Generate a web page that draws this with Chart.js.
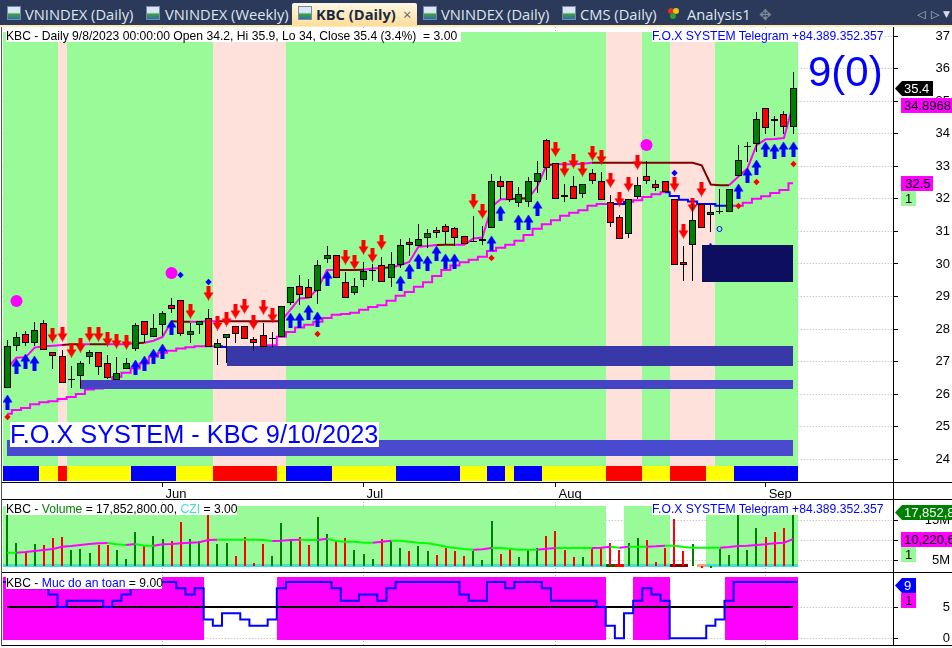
<!DOCTYPE html>
<html><head><meta charset="utf-8">
<script src="https://cdn.jsdelivr.net/npm/chart.js@4"></script>
<style>
html,body{margin:0;padding:0;background:#fff;width:952px;height:648px;overflow:hidden;font-family:"Liberation Sans",Arial,sans-serif}
canvas{position:absolute;left:0}
.a{position:absolute;white-space:pre;line-height:1}
.tabs{position:absolute;left:0;top:0;width:952px;height:25px;background:#2b3a5a}
.stripe{position:absolute;left:0;top:25px;width:952px;height:2px;background:#ffe9b4}
.t{position:absolute;top:5px;font:14.7px "Open Sans",sans-serif;color:#dfe5ef;white-space:pre;line-height:18px}
.ic{position:absolute;top:6px;width:14px;height:14px;background:linear-gradient(#d9e8f8 45%,#3fa03f 60%,#2a70b0);border:1px solid #7a8aa5;box-sizing:border-box}
.line{position:absolute;background:#000}
.box{position:absolute;background:#fff;white-space:pre;font-size:12.15px;line-height:12px;padding:0}
.tag{position:absolute;font-size:13px;line-height:15px;height:15px;white-space:pre;overflow:hidden;padding-left:4px;box-sizing:border-box}
</style></head><body>
<canvas id="main" width="952" height="472" style="top:27px"></canvas>
<canvas id="vol" width="952" height="73" style="top:499px"></canvas>
<canvas id="safe" width="952" height="73" style="top:572px"></canvas>

<div class="tabs"></div><div class="stripe"></div>
<div style="position:absolute;left:292px;top:3px;width:125px;height:23px;background:linear-gradient(#fdf8e6,#ffdc98);border-radius:2px 2px 0 0"></div>
<div class="ic" style="left:7px"></div><div class="t" style="left:25px">VNINDEX (Daily)</div>
<div class="ic" style="left:146px"></div><div class="t" style="left:165px">VNINDEX (Weekly)</div>
<div class="ic" style="left:298px"></div><div class="t" style="left:316px;font-weight:700;color:#1b2a44">KBC (Daily)</div>
<div class="t" style="left:403px;color:#666">×</div>
<div class="ic" style="left:423px"></div><div class="t" style="left:441px">VNINDEX (Daily)</div>
<div class="ic" style="left:562px"></div><div class="t" style="left:580px">CMS (Daily)</div>
<div style="position:absolute;left:668px;top:8px;width:6px;height:6px;border-radius:3px;background:#e03020"></div>
<div style="position:absolute;left:673px;top:8px;width:6px;height:6px;border-radius:3px;background:#f0c020"></div>
<div style="position:absolute;left:670px;top:13px;width:6px;height:6px;border-radius:3px;background:#30a030"></div>
<div class="t" style="left:687px">Analysis1</div>
<div class="t" style="left:759px;color:#7d8798">✥</div>
<div class="t" style="left:917px;color:#b8c0cc;font:11px 'DejaVu Sans';top:8px">◁</div>
<div class="t" style="left:931px;color:#b8c0cc;font:11px 'DejaVu Sans';top:8px">▷</div>
<div class="t" style="left:943px;color:#d8dde6;font:9px 'DejaVu Sans';top:9px">▼</div>

<div class="line" style="left:893px;top:27px;width:1px;height:618px"></div>
<div class="line" style="left:2px;top:482px;width:950px;height:1px"></div>
<div class="line" style="left:2px;top:499px;width:950px;height:1px"></div>
<div class="line" style="left:2px;top:572px;width:950px;height:1px"></div>
<div class="line" style="left:2px;top:645px;width:950px;height:1px"></div>
<div class="line" style="left:1px;top:27px;width:1px;height:619px;background:#555"></div>

<div class="box" style="left:6px;top:30px;width:455px;height:12px">KBC - Daily 9/8/2023 00:00:00 Open 34.2, Hi 35.9, Lo 34, Close 35.4 (3.4%)  = 3.00</div>
<div class="box" style="left:652px;top:30px;width:231px;height:12px;color:#0000ff;">F.O.X SYSTEM Telegram +84.389.352.357</div>
<div class="a" style="left:808px;top:51px;font-size:42px;color:#0000ff">9(0)</div>
<div class="a" style="left:10px;top:422px;width:369px;height:25px;background:#fff;color:#0000ff;font-size:25.3px">F.O.X SYSTEM - KBC 9/10/2023</div>

<div class="tag" style="left:895px;top:81px;width:38px;background:#000;color:#fff;clip-path:polygon(0 50%,7px 0,100% 0,100% 100%,7px 100%);padding-left:9px">35.4</div>
<div class="tag" style="left:901px;top:98px;width:51px;background:#ff00ff;color:#000;padding-left:3px">34.8968</div>
<div class="tag" style="left:901px;top:176px;width:32px;background:#ff00ff;color:#000">32.5</div>
<div class="tag" style="left:901px;top:191px;width:15px;background:#98fb98;color:#000">1</div>

<div class="box" style="left:6px;top:503px;width:231px;height:12px">KBC - <span style="color:#008000">Volume</span> = 17,852,800.00, <span style="color:#40e0d0">CZI</span> = 3.00</div>
<div class="box" style="left:652px;top:503px;width:231px;height:12px;color:#0000ff">F.O.X SYSTEM Telegram +84.389.352.357</div>
<div class="tag" style="left:895px;top:505px;width:57px;background:#008000;color:#fff;clip-path:polygon(0 50%,7px 0,100% 0,100% 100%,7px 100%);padding-left:9px">17,852,800</div>
<div class="tag" style="left:901px;top:532px;width:51px;background:#ff00ff;color:#000;padding-left:3px">10,220,600</div>
<div class="tag" style="left:901px;top:547px;width:15px;background:#98fb98;color:#000">1</div>

<div class="box" style="left:6px;top:577px;width:156px;height:12px">KBC - <span style="color:#0000ff">Muc do an toan</span> = 9.00</div>
<div class="tag" style="left:895px;top:578px;width:21px;background:#0000ff;color:#fff;clip-path:polygon(0 50%,7px 0,100% 0,100% 100%,7px 100%);padding-left:9px">9</div>
<div class="tag" style="left:901px;top:593px;width:15px;background:#ff00ff;color:#000">1</div>

<script>
// ---------- price data (one entry per trading day) ----------
const opens=[26.2,27.47,27.85,27.56,28.17,27.28,27.16,26.43,26.56,27.13,27.28,26.97,26.42,26.76,27.4,28.26,27.77,28.11,28.75,28.88,27.83,28.11,28.35,27.43,27.71,28.08,28.08,27.68,27.83,27.7,27.77,28.8,29.31,29.28,29.17,30.16,30.26,29.46,29.11,29.51,29.77,29.98,29.58,29.98,30.66,30.56,30.8,31.03,31.18,31.09,30.87,30.66,30.71,31.11,32.56,32.56,31.88,31.91,32.52,33.8,33.1,32.13,32.38,32.16,32.78,32.56,31.89,31.43,30.92,32.06,32.69,32.47,32.56,31.98,30.07,30.57,31.83,31.49,31.59,31.61,32.69,33.58,33.67,34.78,34.46,34.62,34.2];
const highs=[27.66,27.9,27.95,28.23,28.29,27.28,27.37,26.86,27.03,27.37,27.28,27.19,27.13,27.1,28.17,28.26,28.46,28.55,28.94,28.88,28.2,28.26,28.63,27.68,27.86,28.08,28.08,27.74,28.2,27.92,28.72,29.28,29.66,29.55,30.12,30.55,30.26,29.76,29.58,30.05,30.01,30.22,30.38,30.76,30.8,31.24,31.06,31.14,31.24,31.15,30.87,31.47,31.16,32.75,32.7,32.56,32.36,32.67,33.16,33.85,33.1,32.45,32.7,32.47,32.93,32.81,32.11,31.5,31.98,32.67,33.16,32.59,32.56,31.98,30.55,31.85,31.83,31.82,32.3,32.29,33.65,33.76,34.66,34.78,34.56,34.71,35.9];
const lows=[26.2,27.33,27.47,27.47,27.37,26.78,26.33,26.2,26.2,26.94,26.59,26.48,26.42,26.76,27.34,27.56,27.74,27.79,28.48,27.79,27.56,27.86,27.46,26.89,26.97,27.56,27.68,27.34,27.46,27.46,27.77,28.74,28.73,28.96,28.76,30.03,29.57,28.96,29.05,29.3,29.48,29.45,29.3,29.89,30.24,30.56,30.5,30.8,30.58,30.56,30.62,30.66,30.59,31.11,32.01,31.91,31.75,31.75,32.18,32.57,32.0,31.91,32.0,32.03,32.47,31.97,31.14,30.78,30.8,32.01,32.47,32.25,32.2,29.98,29.48,29.48,31.09,30.99,31.53,31.61,32.69,33.13,33.44,34.0,33.93,33.99,34.0];
const closes=[27.47,27.76,27.56,27.96,27.37,27.16,26.33,26.46,26.97,27.28,26.82,26.51,26.65,26.97,28.11,27.83,28.02,28.48,28.63,27.86,27.95,28.26,27.46,27.56,27.86,27.86,27.68,27.56,27.46,27.73,28.72,29.28,29.05,28.96,29.98,30.26,29.57,28.96,29.31,29.77,29.8,29.45,30.01,30.57,30.57,30.78,30.94,30.96,30.97,30.8,30.62,30.69,30.78,32.54,32.37,31.97,32.16,32.54,32.78,32.95,32.0,32.06,32.0,32.47,32.55,31.97,31.27,30.78,31.98,32.44,32.56,32.32,32.2,29.98,29.98,31.36,31.09,31.61,31.62,32.29,33.18,33.61,34.44,34.19,34.38,34.22,35.4];
const lowerLine=[25.40,25.51,25.57,25.69,25.75,25.78,25.85,25.91,26.0,26.14,26.17,26.38,26.53,26.66,26.79,26.94,27.15,27.27,27.33,27.40,27.44,27.47,27.47,27.47,27.45,27.45,27.45,27.45,27.45,27.5,27.76,27.91,28.05,28.13,28.22,28.34,28.44,28.46,28.5,28.59,28.68,28.73,28.87,29.02,29.14,29.3,29.44,29.63,29.81,29.95,30.05,30.13,30.22,30.4,30.5,30.59,30.71,30.89,31.08,31.22,31.34,31.48,31.57,31.65,31.79,31.84,31.84,31.84,31.91,31.96,32.06,32.14,32.2,32.09,31.97,31.92,31.84,31.84,31.79,31.79,31.79,31.88,32.0,32.08,32.18,32.27,32.48];
const upperLine=[26.79,27.12,27.13,27.43,27.47,27.49,27.51,27.53,27.53,27.53,27.53,27.53,27.53,27.53,27.56,27.58,27.64,27.76,28.24,28.22,28.22,28.22,28.24,28.24,28.24,28.24,28.24,28.24,28.24,28.24,28.24,28.6,28.94,28.96,29.25,29.81,29.81,29.81,29.81,29.82,29.86,29.88,29.89,29.96,30.06,30.53,30.55,30.58,30.59,30.59,30.59,30.78,30.81,31.75,31.99,31.99,32.02,32.01,32.37,33.03,33.06,33.06,33.06,33.08,33.11,33.11,33.11,33.11,33.11,33.11,33.11,33.11,33.11,33.11,33.11,33.11,33.03,32.44,32.42,32.42,32.68,32.93,33.65,33.83,33.84,33.87,34.9];
const upperMaroonDays=[6,7,9,10,14,18,19,23,24,25,26,27,28,29,36,37,38,41,47,48,55,56,59,64,65,66,67,68,69,70,71,72,73,74,75,76,77,78];
const lowerBlueDays=[23,24,66,67,72,73,74,75,76,77,78];
const redArrowDays=[5,6,7,8,9,10,11,12,13,20,22,23,24,25,26,27,28,29,37,38,39,40,41,51,52,60,61,62,63,64,65,66,67,68,69,73,74,75,76];
const redArrowPrices=[27.83,27.86,27.35,27.52,27.86,27.86,27.69,27.62,27.59,28.54,29.12,28.17,28.32,28.54,28.72,28.23,28.69,28.42,30.22,30.07,30.53,30.28,30.68,31.94,31.63,33.54,32.92,33.17,32.92,33.41,33.29,32.59,31.98,32.46,33.14,32.47,31.02,31.82,32.29];
const blueArrowDays=[0,1,2,3,14,15,16,17,18,31,32,33,34,35,43,44,45,46,47,48,49,53,54,56,57,58,77,80,81,82,83,84,85,86];
const blueArrowPrices=[25.76,26.86,27.02,26.96,26.84,26.96,27.18,27.33,28.05,28.29,28.29,28.53,28.32,29.58,29.42,29.79,30.1,30.03,30.34,30.1,30.1,30.65,31.58,31.29,31.29,31.73,30.42,32.25,32.74,32.98,33.54,33.47,33.54,33.54];
const redDiamondDays=[0,34,53,80,82,86];
const redDiamondPrices=[25.29,27.84,30.18,31.79,32.51,33.07];
const blueDiamondDays=[19,22,73];
const blueDiamondPrices=[29.66,29.45,32.79];
const hollowDays=[78];
const hollowPrices=[31.07];
const bigDotDays=[1,18,70];
const bigDotPrices=[28.85,29.71,33.64];
// background phases: first day, last day
const greenRuns=[[0,5],[7,22],[31,65],[70,72],[78,86]];
const pinkRuns=[[6,6],[23,30],[66,69],[73,77]];
const bandLow=23.33, bandHigh=37.12;
const stripLow=23.33, stripHigh=23.79;
const stripBlueRuns=[[0,3],[14,18],[31,35],[43,49],[53,54],[56,58],[80,86]];
const stripYellowRuns=[[4,5],[7,13],[19,22],[30,30],[36,42],[50,52],[55,55],[59,65],[70,72],[77,79]];
const stripRedRuns=[[6,6],[23,29],[66,69],[73,76]];
// zones: start day, end day, low, high
const zoneStart=[0,8,24,76];
const zoneEnd=[86,86,86,86];
const zoneLow=[24.10,26.15,26.86,29.45];
const zoneHigh=[24.59,26.43,27.48,30.58];
const zoneColor=['#4a4ad0','#4444c4','#3838a8','#0e0e60'];
const monthDays=[17,39,60,83];
const monthNames=['Jun','Jul','Aug','Sep'];
// ---------- volume pane (millions) ----------
const volumes=[18,9.33,7.08,9,8.67,10.5,10.75,7.5,7.75,6.75,8.75,8.75,7.5,5.25,12,8.75,11,10.25,9.75,14.5,10.25,9.75,17,9,9.25,6,10.75,4.25,9,6,14.25,10.25,10.67,8.75,15.75,11.5,10,10.5,7.5,6.5,5.25,10.25,10,8,7.25,8.5,7.25,6.25,8,7.25,6,7.25,5,14.75,6.5,8,5.75,7.5,8,11,12.25,7.5,5.75,5.75,7.75,8,9.25,7.5,9.25,10.5,10,4.5,8,15.25,7.25,9,3,3,7.75,6.25,16.5,7.5,13,10.75,12,13,17.85];
const volumeAverage=[6.83,6.83,7,7.25,7.5,7.75,8.33,8.5,8.75,9,9.17,9.25,8.92,8.75,9,8.58,8.58,8.92,9,9.17,9.33,9.42,10,10.08,10.08,10.08,10.08,10.08,10,9.75,9.83,10,10.08,10,10,10.33,9.75,9.58,9.58,9.33,9.33,9.58,9.83,9.83,9.58,9.33,9.17,8.83,8.33,8,7.75,7.58,7.67,8,8,7.83,7.58,7.58,7.58,7.83,8,8,8,8,8,8.08,8.33,8.08,8.33,8.33,8.33,8.42,8.58,8.58,8.25,8.08,8.08,8.08,8.08,8.25,8.5,8.58,8.75,8.92,9.17,9.33,10.22];
const volTicks=[5,10,15];
const volGreenRuns=[[0,65],[68,72],[77,86]];
const volBandLow=3.25, volBandHigh=18.5, czLow=3.25, czHigh=4;
const czTurquoiseRuns=[[0,65],[68,72],[77,86]];
const czDarkGreenRuns=[[66,66]];
const czRedRuns=[[67,67]];
const czMaroonRuns=[[73,74]];
const czOrangeRuns=[[76,76]];
// ---------- safety pane ----------
const safety=[9,9,8,8,8,7,5,6,6,6,6,5,6,7,8,9,9,9,9,8,7,8,3,2,4,4,3,2,2,3,8,9,9,9,9,9,8,6,6,7,7,6,8,9,9,9,9,9,9,9,7,6,6,9,9,8,9,9,9,8,6,6,6,6,6,5,2,0,4,6,8,7,6,0,0,0,0,2,3,6,9,9,9,9,9,9,9];
const safetyMagentaRuns=[[0,21],[30,65],[69,72],[79,86]];
const safeBandLow=-0.27, safeBandHigh=9.85, safetyMid=5;
const safeTicks=[0,5];

const FONT={family:'"Liberation Sans",Arial,sans-serif',size:13};
const LEFT=2.7, XMIN=-0.5, XMAX=96.94;
const days=opens.map((_,i)=>i);

function arrow(color,up){
  const c=document.createElement('canvas');c.width=11;c.height=15;
  const g=c.getContext('2d');g.fillStyle=color;
  if(!up){g.translate(0,15);g.scale(1,-1);}
  g.beginPath();g.moveTo(5.5,0);g.lineTo(10.5,8);g.lineTo(7.5,8);g.lineTo(7.5,15);g.lineTo(3.5,15);g.lineTo(3.5,8);g.lineTo(.5,8);g.closePath();g.fill();
  return c;
}
const runBar=(runs,lo,hi,color,order)=>({type:'bar',order,data:runs.map(r=>({x:r[0],y:[lo,hi],x0:r[0]-.5,x1:r[1]+.5})),backgroundColor:color,barThickness:9,borderWidth:0,inflateAmount:0,grouped:false});
const pts=(xs,ys)=>xs.map((x,i)=>({x,y:ys[i]}));
const scatter=(xs,ys,style,radius,color,order,extra)=>Object.assign({type:'line',showLine:false,order,data:pts(xs,ys),pointStyle:style,pointRadius:radius,pointBackgroundColor:color,pointBorderColor:color,pointBorderWidth:0},extra||{});

const snap={id:'snap',afterDatasetsUpdate(chart){
  const xs=chart.scales.x;
  chart.data.datasets.forEach((ds,d)=>{
    const meta=chart.getDatasetMeta(d);
    if(meta.type==='line'&&ds.showLine!==false)return;
    meta.data.forEach((el,i)=>{
      const raw=ds.data[i];
      if(meta.type==='bar'){
        if(raw&&raw.x0!==undefined){
          const l=Math.round(xs.getPixelForValue(raw.x0)),r=Math.round(xs.getPixelForValue(raw.x1));
          el.x=(l+r)/2;el.width=r-l;
        }else{
          el.x=(el.width%2)?Math.floor(el.x)+.5:Math.round(el.x);
        }
        el.y=Math.round(el.y);el.base=Math.round(el.base);
        if(el.y===el.base)el.base=el.y+1;
      }else{
        el.x=Math.floor(el.x)+.5;el.y=Math.round(el.y);
      }
    });
  });
}};
function noPad(s){s.paddingTop=0;s.paddingBottom=0;s.paddingLeft=0;s.paddingRight=0;}

function xAxis(showLabels){
  return {type:'linear',min:XMIN,max:XMAX,offset:false,
    grid:{offset:false,color:'#b4b4b4',tickColor:'#000',tickLength:5,drawTicks:showLabels,tickBorderDash:[]},
    border:{display:false,dash:[1,2]},
    afterBuildTicks:s=>{s.ticks=monthDays.map(v=>({value:v}));},
    afterFit:s=>{s.height=showLabels?17:0;noPad(s);},
    ticks:{display:showLabels,autoSkip:false,maxRotation:0,align:'start',labelOffset:3,padding:0,color:'#000',font:FONT,
      callback:v=>monthNames[monthDays.indexOf(v)]}};
}
function yAxis(min,max,extra){
  return Object.assign({type:'linear',position:'right',min,max,
    grid:{color:'#b4b4b4',tickColor:'#000',tickLength:5,tickBorderDash:[]},
    border:{display:false,dash:[1,2]},
    afterFit:s=>{s.width=57;noPad(s);}},extra);
}
function make(id,datasets,y,showLabels){
  return new Chart(document.getElementById(id),{type:'bar',data:{datasets},plugins:[snap],options:{
    responsive:false,animation:false,events:[],devicePixelRatio:1,
    layout:{autoPadding:false,padding:{left:LEFT,right:2,top:0,bottom:0}},
    plugins:{legend:{display:false},tooltip:{enabled:false}},
    scales:{x:xAxis(showLabels),y}
  }});
}

// main pane
const upCandle=closes.map((c,i)=>c>=opens[i]);
make('main',[
  runBar(greenRuns,bandLow,bandHigh,'#98fb98',30),
  runBar(pinkRuns,bandLow,bandHigh,'#ffe1dc',29),
  runBar(stripBlueRuns,stripLow,stripHigh,'#0000ff',28),
  runBar(stripYellowRuns,stripLow,stripHigh,'#ffff00',27),
  runBar(stripRedRuns,stripLow,stripHigh,'#ff0000',26),
  {type:'line',order:25,data:pts(days,lowerLine),stepped:'middle',borderColor:'#ff00ff',borderWidth:2,pointRadius:0,
    segment:{borderColor:c=>lowerBlueDays.includes(c.p0DataIndex)?'#0000ff':'#ff00ff'}},
  {type:'line',order:24,data:pts(days,upperLine),borderColor:'#ff00ff',borderWidth:2,pointRadius:0,
    segment:{borderColor:c=>upperMaroonDays.includes(c.p0DataIndex)?'#800000':'#ff00ff'}},
  scatter(bigDotDays,bigDotPrices,'circle',6,'#ff00ff',23),
  scatter(blueArrowDays,blueArrowPrices,arrow('#0000ff',true),7,'#0000ff',22),
  scatter(redArrowDays,redArrowPrices,arrow('#ff0000',false),7,'#ff0000',21),
  scatter(redDiamondDays,redDiamondPrices,'rectRot',3.2,'#ff0000',20),
  scatter(blueDiamondDays,blueDiamondPrices,'rectRot',3.2,'#0000ff',19),
  scatter(hollowDays,hollowPrices,'circle',2.5,'rgba(0,0,0,0)',18,{pointBorderColor:'#0000ff',pointBorderWidth:1}),
  {type:'bar',order:17,data:zoneStart.map((s,i)=>({x:s,y:[zoneLow[i],zoneHigh[i]],x0:s,x1:zoneEnd[i]})),backgroundColor:zoneColor,barThickness:9,borderWidth:0,inflateAmount:0,grouped:false},
  {type:'bar',order:16,data:days.map(i=>({x:i,y:[lows[i],highs[i]]})),backgroundColor:'#000',barThickness:1,borderWidth:0,inflateAmount:0,grouped:false},
  {type:'bar',order:15,data:days.map(i=>({x:i,y:[opens[i],closes[i]]})),backgroundColor:upCandle.map(u=>u?'#008000':'#ff0000'),borderColor:'#000',borderWidth:1,borderSkipped:false,barThickness:7,inflateAmount:0,grouped:false}
],yAxis(23.3,37.28,{ticks:{stepSize:1,includeBounds:false,padding:2,crossAlign:'far',color:'#000',font:FONT}}),true);

// volume pane
make('vol',[
  runBar(volGreenRuns,volBandLow,volBandHigh,'#98fb98',10),
  runBar(czTurquoiseRuns,czLow,czHigh,'#40e0d0',9),
  runBar(czDarkGreenRuns,czLow,czHigh,'#006400',8),
  runBar(czRedRuns,czLow,czHigh,'#ff0000',8),
  runBar(czMaroonRuns,czLow,czHigh,'#800000',8),
  runBar(czOrangeRuns,czLow,czHigh,'#ffa07a',8),
  {type:'bar',order:5,data:days.map(i=>({x:i,y:[volBandLow+.25,volumes[i]]})),backgroundColor:upCandle.map(u=>u?'#008000':'#ff0000'),barThickness:2,borderWidth:0,inflateAmount:0,grouped:false},
  {type:'line',order:4,data:pts(days,volumeAverage),borderColor:'#00ff00',borderWidth:2,pointRadius:0,
    segment:{borderColor:c=>c.p1.parsed.y>c.p0.parsed.y?'#ff00ff':'#00ff00'}}
],yAxis(2,20.25,{afterBuildTicks:s=>{s.ticks=volTicks.map(v=>({value:v}));},ticks:{padding:2,crossAlign:'far',color:'#000',font:FONT,callback:v=>v+'M'}}),false);

// safety pane
make('safe',[
  runBar(safetyMagentaRuns,safeBandLow,safeBandHigh,'#ff00ff',10),
  {type:'line',order:5,data:[{x:0,y:safetyMid},{x:86,y:safetyMid}],borderColor:'#000',borderWidth:2,pointRadius:0},
  {type:'line',order:4,data:[{x:-.5,y:safety[0]}].concat(pts(days,safety),[{x:86.5,y:safety[86]}]),stepped:'middle',borderColor:'#0000ff',borderWidth:2,pointRadius:0}
],yAxis(-1.07,10.6,{afterBuildTicks:s=>{s.ticks=safeTicks.map(v=>({value:v}));},ticks:{padding:2,crossAlign:'far',color:'#000',font:FONT}}),false);
</script>
</body></html>
